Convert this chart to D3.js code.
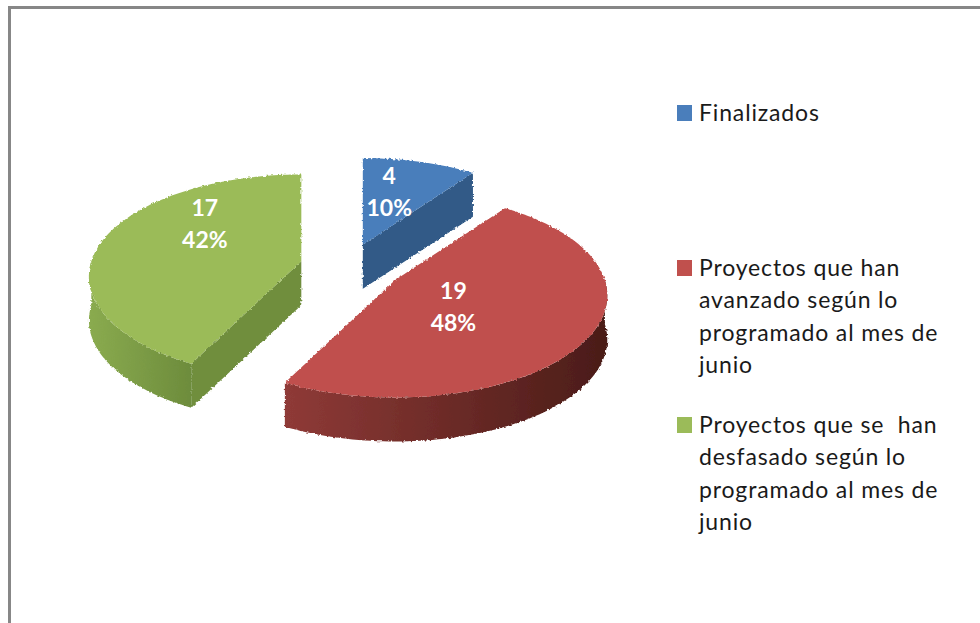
<!DOCTYPE html>
<html>
<head>
<meta charset="utf-8">
<script src="https://cdn.jsdelivr.net/npm/d3@7"></script>
<style>
  html, body { margin: 0; padding: 0; background: #fff; }
  svg { display: block; }
  text { font-family: Lato, "Open Sans", sans-serif; }
</style>
</head>
<body>
<svg id="chart" width="980" height="623"></svg>
<script>
const categories = ["Finalizados", "Proyectos que han avanzado según lo programado al mes de junio", "Proyectos que se  han desfasado según lo programado al mes de junio"];
const values = [4, 19, 17];
const percentLabels = ["10%", "48%", "42%"];
const legendLines = [
  ["Finalizados"],
  ["Proyectos que han", "avanzado según lo", "programado al mes de", "junio"],
  ["Proyectos que se  han", "desfasado según lo", "programado al mes de", "junio"]
];
const topColors = ["#4a7ebb", "#c0504d", "#9bbb59"];
const faceColors = ["#305a87", "#7a2f2c", "#6f8e3e"];
const wallStops = [
  ["#2f5a88", "#2f5a88"],
  ["#8f3a37", "#4a1c18"],
  ["#8aab4f", "#6d8c3c"]
];

const svg = d3.select("#chart");

// frame, cut off by the picture on the right and at the bottom
svg.append("path")
  .attr("d", "M9.5,623V7.5H980")
  .attr("fill", "none")
  .attr("stroke", "#878787")
  .attr("stroke-width", 3);

// flat disk seen from above, near side a bit larger
const center = { x: 348, y: 266.5 };
const radius = 210;
const tilt = 0.475;
const persp = 0.15;
const explode = [48, 55, 48];
const depth = 44;

const defs = svg.append("defs");

// the edges of the original are serrated
const rough = defs.append("filter")
  .attr("id", "rough")
  .attr("x", "-5%").attr("y", "-5%")
  .attr("width", "110%").attr("height", "110%");
rough.append("feTurbulence")
  .attr("type", "fractalNoise")
  .attr("baseFrequency", 0.45)
  .attr("numOctaves", 1)
  .attr("seed", 3)
  .attr("result", "noise");
rough.append("feDisplacementMap")
  .attr("in", "SourceGraphic")
  .attr("in2", "noise")
  .attr("scale", 3.5)
  .attr("xChannelSelector", "R")
  .attr("yChannelSelector", "G")
  .attr("result", "moved");
rough.append("feGaussianBlur")
  .attr("in", "moved")
  .attr("stdDeviation", 0.45);

const line = d3.line().x(d => d.x).y(d => d.y);

const pie = d3.pie().value(d => d).sort(null);
const slices = pie(values).map((d, i) => {
  const mid = (d.startAngle + d.endAngle) / 2;
  return {
    i: i,
    start: d.startAngle,
    end: d.endAngle,
    mid: mid,
    apex: {
      x: center.x + explode[i] * Math.sin(mid),
      y: center.y - tilt * explode[i] * Math.cos(mid)
    }
  };
});

// perspective taken around each slice's own apex, so the 0 degree cut stays vertical
function polar(d, a, r) {
  const x = r * Math.sin(a);
  const y = -r * Math.cos(a);
  const s = 1 / (1 - persp * y / radius);
  return { x: d.apex.x + x * s, y: d.apex.y + tilt * y * s };
}

function arcPoints(d, a0, a1) {
  const n = Math.max(2, Math.ceil((a1 - a0) * 40));
  return d3.range(n + 1).map(k => polar(d, a0 + (a1 - a0) * k / n, radius));
}

function drop(p) {
  return { x: p.x, y: p.y + depth };
}

const groups = svg.selectAll(".slice")
  .data(slices)
  .enter()
  .append("g")
  .attr("class", "slice")
  .attr("filter", "url(#rough)");

groups.each(function(d) {
  const g = d3.select(this);

  // cut faces turned to the viewer
  [[d.start, d.start - Math.PI / 2], [d.end, d.end + Math.PI / 2]].forEach(([a, normal]) => {
    if (Math.cos(normal) > -0.001) return;
    const rim = polar(d, a, radius);
    g.append("path")
      .attr("d", line([d.apex, rim, drop(rim), drop(d.apex)]) + "Z")
      .attr("fill", faceColors[d.i]);
  });

  // outer wall, only the front half of the rim
  const a0 = Math.max(d.start, Math.PI / 2);
  const a1 = Math.min(d.end, Math.PI * 1.5);
  if (a1 > a0) {
    const rim = arcPoints(d, a0, a1);
    const xs = d3.extent(rim, p => p.x);
    const gradId = "wall" + d.i;
    const grad = defs.append("linearGradient")
      .attr("id", gradId)
      .attr("gradientUnits", "userSpaceOnUse")
      .attr("x1", xs[0]).attr("x2", xs[1])
      .attr("y1", 0).attr("y2", 0);
    wallStops[d.i].forEach((c, k) => {
      grad.append("stop").attr("offset", k).attr("stop-color", c);
    });
    g.append("path")
      .attr("d", line(rim.concat(rim.map(drop).reverse())) + "Z")
      .attr("fill", `url(#${gradId})`);
  }

  // top
  g.append("path")
    .attr("d", line([d.apex].concat(arcPoints(d, d.start, d.end))) + "Z")
    .attr("fill", topColors[d.i]);
});

// value and percent labels
const labelFrac = 0.45;
const labelNudge = [[-1, -13], [-25, 3], [-6, -27]];
const labels = svg.selectAll(".pie-label")
  .data(slices)
  .enter()
  .append("text")
  .attr("class", "pie-label")
  .attr("text-anchor", "middle")
  .attr("fill", "#fff")
  .style("font-size", "23px")
  .style("font-weight", "700")
  .attr("transform", d => {
    const p = polar(d, d.mid, radius * labelFrac);
    const n = labelNudge[d.i];
    return `translate(${p.x + n[0]},${p.y + n[1]})`;
  });

labels.append("tspan").attr("x", 0).attr("dy", "-0.35em").text(d => values[d.i]);
labels.append("tspan").attr("x", 0).attr("dy", 32).text(d => percentLabels[d.i]);

// legend
const legendX = 677;
const legendTextX = 699;
const legendLine = 32.4;
const legendTop = [105, 260, 417];

const legend = svg.selectAll(".legend-item")
  .data(categories)
  .enter()
  .append("g")
  .attr("class", "legend-item")
  .attr("transform", (d, i) => `translate(${legendX},${legendTop[i]})`);

legend.append("rect")
  .attr("width", 15)
  .attr("height", 16)
  .attr("fill", (d, i) => topColors[i]);

legend.each(function(d, i) {
  d3.select(this).selectAll("text")
    .data(legendLines[i])
    .enter()
    .append("text")
    .attr("x", legendTextX - legendX)
    .attr("y", (t, k) => 16 + k * legendLine)
    .attr("fill", "#1a1a1a")
    .style("font-size", "23px")
    .style("letter-spacing", "0.85px")
    .style("white-space", "pre")
    .text(t => t);
});
</script>
</body>
</html>
